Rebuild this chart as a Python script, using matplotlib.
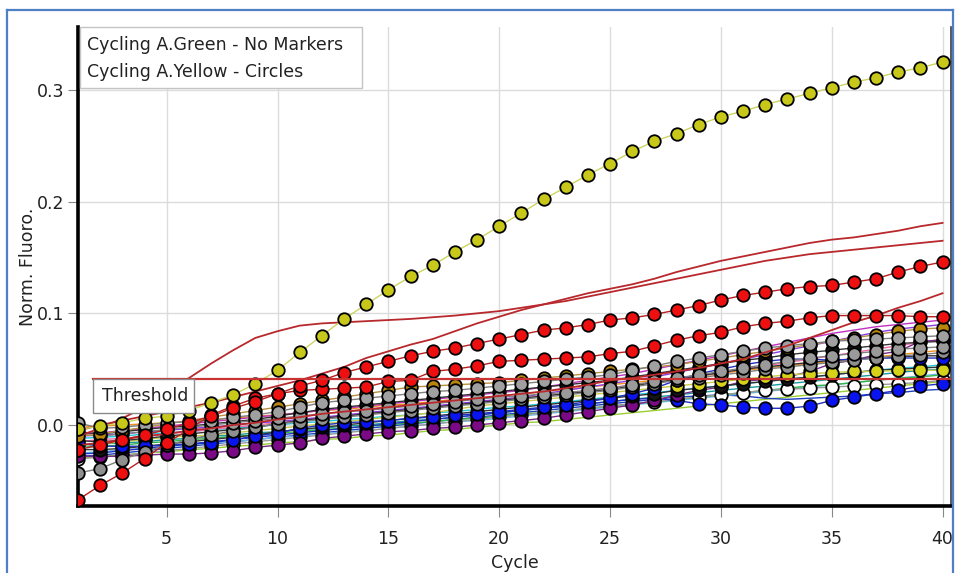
import matplotlib
matplotlib.use("Agg")
import matplotlib.pyplot as plt
from matplotlib.patches import Rectangle
from matplotlib.lines import Line2D

# ---------------- data ----------------
cycles = list(range(1, 41))
threshold = 0.0415
x_ticks = [5, 10, 15, 20, 25, 30, 35, 40]
y_ticks = [0.0, 0.1, 0.2, 0.3]
y_tick_labels = ["0.0", "0.1", "0.2", "0.3"]
legend_lines = ["Cycling A.Green - No Markers", "Cycling A.Yellow - Circles"]

# Cycling A.Yellow (circle markers)
yellow_high = [-0.004, -0.001, 0.002, 0.006, 0.008, 0.013, 0.020, 0.027, 0.037, 0.049,
               0.065, 0.080, 0.095, 0.108, 0.121, 0.133, 0.143, 0.155, 0.166, 0.178,
               0.190, 0.202, 0.213, 0.224, 0.234, 0.245, 0.254, 0.261, 0.269, 0.276,
               0.281, 0.287, 0.292, 0.297, 0.302, 0.307, 0.311, 0.316, 0.320, 0.325]
red_upper = [-0.022, -0.018, -0.013, -0.009, -0.004, 0.002, 0.008, 0.015, 0.021, 0.028,
             0.035, 0.040, 0.047, 0.052, 0.057, 0.062, 0.066, 0.069, 0.073, 0.077,
             0.081, 0.085, 0.087, 0.090, 0.094, 0.096, 0.099, 0.103, 0.107, 0.112,
             0.116, 0.119, 0.122, 0.124, 0.125, 0.128, 0.131, 0.137, 0.142, 0.146]
red_lower = [-0.067, -0.054, -0.043, -0.030, -0.016, -0.004, 0.009, 0.017, 0.024, 0.028,
             0.031, 0.032, 0.033, 0.034, 0.039, 0.040, 0.048, 0.050, 0.053, 0.057,
             0.058, 0.059, 0.060, 0.061, 0.064, 0.066, 0.071, 0.076, 0.080, 0.083,
             0.088, 0.091, 0.093, 0.096, 0.098, 0.098, 0.098, 0.098, 0.097, 0.097]
gray_top = [0.002, -0.003, -0.002, 0.000, 0.002, 0.003, 0.004, 0.007, 0.009, 0.012,
            0.016, 0.020, 0.022, 0.024, 0.026, 0.028, 0.030, 0.031, 0.033, 0.035,
            0.037, 0.039, 0.041, 0.043, 0.045, 0.049, 0.053, 0.057, 0.060, 0.063,
            0.066, 0.069, 0.071, 0.073, 0.075, 0.076, 0.077, 0.078, 0.079, 0.080]
gray_mid = [-0.008, -0.010, -0.008, -0.006, -0.004, -0.002, 0.000, 0.002, 0.004, 0.006,
            0.008, 0.010, 0.012, 0.013, 0.015, 0.017, 0.019, 0.021, 0.023, 0.025,
            0.026, 0.028, 0.029, 0.031, 0.033, 0.036, 0.039, 0.042, 0.045, 0.048,
            0.051, 0.054, 0.057, 0.060, 0.062, 0.064, 0.066, 0.068, 0.069, 0.070]
gray_low = [-0.043, -0.039, -0.031, -0.024, -0.018, -0.013, -0.009, -0.005, -0.002, 0.001,
            0.003, 0.005, 0.007, 0.009, 0.011, 0.013, 0.015, 0.017, 0.019, 0.021,
            0.023, 0.025, 0.027, 0.029, 0.031, 0.034, 0.037, 0.040, 0.042, 0.045,
            0.047, 0.050, 0.052, 0.054, 0.056, 0.058, 0.060, 0.062, 0.063, 0.065]
black_a = [-0.006, -0.008, -0.006, -0.004, -0.002, -0.001, 0.001, 0.003, 0.005, 0.008,
           0.011, 0.014, 0.016, 0.018, 0.020, 0.022, 0.024, 0.026, 0.028, 0.030,
           0.032, 0.034, 0.036, 0.038, 0.040, 0.043, 0.046, 0.049, 0.052, 0.055,
           0.058, 0.060, 0.063, 0.065, 0.067, 0.069, 0.071, 0.073, 0.074, 0.075]
black_b = [-0.022, -0.022, -0.021, -0.019, -0.017, -0.015, -0.013, -0.011, -0.009, -0.006,
           -0.004, -0.002, 0.000, 0.002, 0.004, 0.006, 0.008, 0.010, 0.012, 0.014,
           0.016, 0.018, 0.020, 0.022, 0.024, 0.026, 0.028, 0.031, 0.033, 0.035,
           0.037, 0.039, 0.041, 0.043, 0.045, 0.047, 0.049, 0.050, 0.051, 0.052]
black_c = [-0.014, -0.015, -0.014, -0.012, -0.010, -0.008, -0.006, -0.004, -0.002, 0.001,
           0.004, 0.006, 0.008, 0.010, 0.012, 0.014, 0.016, 0.018, 0.020, 0.022,
           0.024, 0.026, 0.028, 0.030, 0.032, 0.035, 0.038, 0.041, 0.044, 0.047,
           0.050, 0.052, 0.054, 0.056, 0.058, 0.059, 0.060, 0.061, 0.062, 0.062]
gold = [-0.010, -0.008, -0.005, -0.002, 0.001, 0.004, 0.007, 0.010, 0.013, 0.016,
        0.019, 0.022, 0.025, 0.028, 0.031, 0.034, 0.035, 0.036, 0.037, 0.038,
        0.040, 0.042, 0.044, 0.046, 0.048, 0.050, 0.052, 0.054, 0.057, 0.060,
        0.063, 0.066, 0.069, 0.072, 0.075, 0.078, 0.081, 0.084, 0.086, 0.087]
white = [-0.030, -0.029, -0.027, -0.025, -0.023, -0.021, -0.019, -0.017, -0.015, -0.013,
         -0.011, -0.009, -0.007, -0.005, -0.003, -0.001, 0.001, 0.003, 0.005, 0.007,
         0.009, 0.011, 0.013, 0.015, 0.017, 0.019, 0.021, 0.023, 0.025, 0.027,
         0.029, 0.031, 0.032, 0.033, 0.034, 0.035, 0.036, 0.037, 0.038, 0.040]
yellow_low = [-0.018, -0.017, -0.015, -0.013, -0.011, -0.010, -0.009, -0.007, -0.005, -0.003,
              -0.001, 0.001, 0.003, 0.005, 0.007, 0.009, 0.011, 0.014, 0.017, 0.019,
              0.021, 0.023, 0.025, 0.027, 0.029, 0.031, 0.033, 0.035, 0.037, 0.039,
              0.041, 0.043, 0.045, 0.046, 0.047, 0.048, 0.048, 0.049, 0.049, 0.049]
blue_high = [-0.016, -0.019, -0.019, -0.019, -0.018, -0.017, -0.016, -0.013, -0.010, -0.007,
             -0.003, 0.000, 0.002, 0.003, 0.004, 0.006, 0.007, 0.009, 0.010, 0.012,
             0.014, 0.016, 0.018, 0.021, 0.024, 0.028, 0.033, 0.040, 0.046, 0.050,
             0.054, 0.057, 0.059, 0.059, 0.058, 0.059, 0.060, 0.060, 0.060, 0.060]
blue_low = [-0.026, -0.025, -0.023, -0.021, -0.019, -0.017, -0.015, -0.013, -0.011, -0.009,
            -0.007, -0.005, -0.003, -0.001, 0.001, 0.003, 0.005, 0.007, 0.009, 0.011,
            0.013, 0.015, 0.017, 0.019, 0.021, 0.023, 0.024, 0.022, 0.019, 0.018,
            0.016, 0.015, 0.015, 0.017, 0.022, 0.025, 0.028, 0.031, 0.035, 0.037]
purple = [-0.028, -0.028, -0.028, -0.027, -0.026, -0.026, -0.025, -0.023, -0.020, -0.018,
          -0.016, -0.012, -0.010, -0.008, -0.006, -0.005, -0.003, -0.002, 0.000, 0.002,
          0.004, 0.006, 0.009, 0.012, 0.015, 0.018, 0.022, 0.027, 0.031, 0.034,
          0.039, 0.041, 0.043, 0.048, 0.055, 0.058, 0.063, 0.066, 0.075, 0.076]

# Cycling A.Green (no markers)
green_red_a = [-0.010, -0.003, 0.006, 0.016, 0.028, 0.042, 0.055, 0.067, 0.078, 0.084,
               0.089, 0.091, 0.092, 0.093, 0.094, 0.095, 0.0965, 0.098, 0.100, 0.102,
               0.105, 0.108, 0.111, 0.115, 0.119, 0.123, 0.127, 0.131, 0.135, 0.139,
               0.143, 0.147, 0.150, 0.153, 0.155, 0.157, 0.159, 0.161, 0.163, 0.165]
green_red_b = [-0.005, 0.000, 0.004, 0.008, 0.012, 0.016, 0.020, 0.025, 0.030, 0.035,
               0.040, 0.046, 0.052, 0.060, 0.066, 0.072, 0.077, 0.084, 0.091, 0.097,
               0.103, 0.108, 0.113, 0.118, 0.122, 0.126, 0.131, 0.137, 0.142, 0.147,
               0.151, 0.155, 0.159, 0.163, 0.166, 0.168, 0.171, 0.174, 0.178, 0.181]
green_red_c = [-0.018, -0.016, -0.013, -0.010, -0.008, -0.005, -0.003, 0.000, 0.002, 0.005,
               0.007, 0.010, 0.012, 0.014, 0.016, 0.018, 0.020, 0.022, 0.024, 0.026,
               0.028, 0.030, 0.033, 0.036, 0.040, 0.042, 0.045, 0.048, 0.051, 0.055,
               0.059, 0.065, 0.071, 0.078, 0.085, 0.092, 0.098, 0.105, 0.111, 0.118]
green_cyan = [-0.012, -0.011, -0.010, -0.008, -0.007, -0.006, -0.004, -0.003, -0.001, 0.000,
              0.002, 0.003, 0.005, 0.006, 0.008, 0.009, 0.011, 0.012, 0.014, 0.016,
              0.017, 0.019, 0.021, 0.023, 0.025, 0.027, 0.029, 0.031, 0.033, 0.035,
              0.037, 0.039, 0.041, 0.043, 0.045, 0.047, 0.049, 0.051, 0.052, 0.054]
green_green = [-0.020, -0.019, -0.018, -0.016, -0.015, -0.013, -0.012, -0.010, -0.009, -0.007,
               -0.006, -0.004, -0.003, -0.001, 0.000, 0.002, 0.003, 0.005, 0.006, 0.008,
               0.010, 0.011, 0.013, 0.015, 0.017, 0.019, 0.021, 0.023, 0.025, 0.027,
               0.029, 0.031, 0.033, 0.035, 0.036, 0.038, 0.040, 0.042, 0.043, 0.045]
green_orange = [-0.002, -0.001, 0.000, 0.001, 0.002, 0.003, 0.005, 0.006, 0.008, 0.009,
                0.011, 0.013, 0.014, 0.016, 0.018, 0.019, 0.021, 0.023, 0.024, 0.026,
                0.028, 0.030, 0.032, 0.034, 0.036, 0.038, 0.040, 0.042, 0.044, 0.046,
                0.049, 0.051, 0.053, 0.055, 0.057, 0.059, 0.061, 0.063, 0.065, 0.067]
green_pink = [-0.015, -0.013, -0.012, -0.010, -0.008, -0.006, -0.004, -0.002, 0.000, 0.002,
              0.004, 0.006, 0.008, 0.010, 0.012, 0.014, 0.016, 0.018, 0.020, 0.022,
              0.024, 0.026, 0.028, 0.031, 0.033, 0.036, 0.038, 0.041, 0.044, 0.047,
              0.050, 0.053, 0.056, 0.059, 0.062, 0.065, 0.068, 0.071, 0.074, 0.077]
green_magenta = [-0.008, -0.007, -0.005, -0.003, -0.001, 0.001, 0.003, 0.005, 0.007, 0.009,
                 0.011, 0.013, 0.015, 0.017, 0.019, 0.021, 0.023, 0.025, 0.027, 0.029,
                 0.031, 0.034, 0.037, 0.040, 0.043, 0.046, 0.050, 0.054, 0.058, 0.062,
                 0.066, 0.070, 0.074, 0.078, 0.082, 0.085, 0.088, 0.090, 0.092, 0.094]
green_violet = [-0.010, -0.009, -0.008, -0.006, -0.005, -0.003, -0.002, 0.000, 0.002, 0.003,
                0.005, 0.007, 0.009, 0.011, 0.013, 0.015, 0.017, 0.019, 0.021, 0.023,
                0.025, 0.028, 0.031, 0.034, 0.037, 0.040, 0.043, 0.047, 0.051, 0.055,
                0.059, 0.063, 0.067, 0.071, 0.075, 0.079, 0.083, 0.086, 0.088, 0.090]
green_sky = [-0.025, -0.024, -0.022, -0.021, -0.019, -0.018, -0.016, -0.015, -0.013, -0.011,
             -0.010, -0.008, -0.006, -0.005, -0.003, -0.001, 0.001, 0.003, 0.004, 0.006,
             0.008, 0.010, 0.012, 0.014, 0.016, 0.018, 0.020, 0.022, 0.024, 0.026,
             0.028, 0.030, 0.032, 0.034, 0.036, 0.038, 0.040, 0.042, 0.044, 0.046]
green_navy = [-0.028, -0.027, -0.025, -0.023, -0.021, -0.019, -0.017, -0.015, -0.013, -0.011,
              -0.009, -0.007, -0.005, -0.003, -0.001, 0.001, 0.003, 0.005, 0.007, 0.009,
              0.011, 0.013, 0.015, 0.017, 0.019, 0.021, 0.023, 0.025, 0.026, 0.027,
              0.026, 0.024, 0.023, 0.024, 0.025, 0.026, 0.028, 0.029, 0.031, 0.032]
green_teal = [-0.018, -0.017, -0.016, -0.015, -0.013, -0.012, -0.010, -0.009, -0.007, -0.006,
              -0.004, -0.003, -0.001, 0.000, 0.002, 0.004, 0.005, 0.007, 0.009, 0.011,
              0.013, 0.015, 0.017, 0.019, 0.021, 0.023, 0.025, 0.027, 0.029, 0.031,
              0.033, 0.035, 0.037, 0.039, 0.041, 0.043, 0.045, 0.047, 0.049, 0.050]
green_olive = [-0.030, -0.028, -0.027, -0.025, -0.024, -0.022, -0.021, -0.019, -0.018, -0.016,
               -0.015, -0.013, -0.012, -0.010, -0.009, -0.007, -0.005, -0.004, -0.002, 0.000,
               0.002, 0.003, 0.005, 0.007, 0.009, 0.011, 0.013, 0.015, 0.017, 0.019,
               0.021, 0.023, 0.025, 0.027, 0.029, 0.031, 0.033, 0.035, 0.037, 0.039]

# ---------------- styling ----------------
plt.rcParams["font.family"] = ["DejaVu Sans"]
TXT = "#222222"

fig = plt.figure(figsize=(9.55, 5.73), dpi=100)
ax = fig.add_axes([78 / 955, 1 - 506 / 573, (951 - 78) / 955, (506 - 27) / 573])
ax.set_xlim(1, 40.38)
ax.set_ylim(-0.0725, 0.3564)

ax.grid(True, color="#dcdcdc", lw=1.0, zorder=0)
ax.set_axisbelow(True)

for side in ("left", "bottom"):
    ax.spines[side].set_color("black")
    ax.spines[side].set_linewidth(2.6)
ax.spines["right"].set_color("#3a3a3a")
ax.spines["right"].set_linewidth(1.2)
ax.spines["top"].set_visible(False)

ax.set_xticks(x_ticks)
ax.set_xticklabels([str(v) for v in x_ticks])
ax.set_yticks(y_ticks)
ax.set_yticklabels(y_tick_labels)
ax.tick_params(axis="x", length=8, width=0.8, color="#888888", pad=9,
               labelsize=12.5, labelcolor=TXT)
ax.tick_params(axis="y", length=7, width=0.8, color="#888888", pad=3,
               labelsize=12.5, labelcolor=TXT)

ax.set_xlabel("Cycle", fontsize=12.5, color=TXT)
ax.set_ylabel("Norm. Fluoro.", fontsize=12.5, color=TXT)
ax.xaxis.set_label_coords(0.5, -0.10)
ax.yaxis.set_label_coords(-0.047, 0.5)

# green channel traces: plain lines
green_traces = [
    (green_olive, "#9acd32"), (green_navy, "#1f3fbf"), (green_sky, "#6fb7e6"),
    (green_green, "#33b54a"), (green_teal, "#1a9a9a"), (green_cyan, "#20c8d8"),
    (green_orange, "#f0901e"), (green_pink, "#f06aa8"), (green_violet, "#8a3be0"),
    (green_magenta, "#c030c0"),
]
for vals, col in green_traces:
    ax.plot(cycles, vals, color=col, lw=1.0, zorder=2)

for vals in (green_red_c, green_red_a, green_red_b):
    ax.plot(cycles, vals, color="#b8282c", lw=1.3, zorder=6)

# yellow channel traces: circles (cluster first, then the rising curves on top)
cluster_traces = [
    (white, "#ffffff", "#9a9a9a"),
    (blue_low, "#0a14f0", "#2030c0"),
    (purple, "#7a0a86", "#7a2a86"),
    (black_b, "#151515", "#333333"),
    (yellow_low, "#d6d21a", "#c8c84a"),
    (black_c, "#151515", "#333333"),
    (blue_high, "#0a14f0", "#2030c0"),
    (gray_low, "#8f8f8f", "#808080"),
    (black_a, "#151515", "#333333"),
    (gray_mid, "#9a9a9a", "#808080"),
    (gold, "#b8860b", "#b89040"),
    (gray_top, "#a0a0a0", "#808080"),
]
rising_traces = [
    (red_lower, "#ee1010", "#b82020"),
    (red_upper, "#ee1010", "#b82020"),
    (yellow_high, "#c8c81a", "#cdd460"),
]
marker_style = dict(lw=1.0, marker="o", markersize=9.0,
                    markeredgecolor="black", markeredgewidth=1.3)
for i, (vals, face, line) in enumerate(cluster_traces):
    ax.plot(cycles, vals, color=line, markerfacecolor=face, zorder=3 + i * 0.01,
            **marker_style)
for i, (vals, face, line) in enumerate(rising_traces):
    ax.plot(cycles, vals, color=line, markerfacecolor=face, zorder=7 + i * 0.01,
            **marker_style)

# threshold line and its tag
thr_start = (93 - 78) / 873
ax.axhline(threshold, xmin=thr_start, xmax=1, color="#c83232", lw=1.6, zorder=8)
ax.add_patch(Rectangle((thr_start, 0.194), (194 - 93) / 873, 0.265 - 0.194,
                       transform=ax.transAxes, facecolor="white",
                       edgecolor="#8a8a8a", lw=1.0, zorder=9))
ax.text(0.027, 0.2295, "Threshold", transform=ax.transAxes, fontsize=12.5,
        color=TXT, va="center", ha="left", zorder=10)

# legend box (text only)
ax.add_patch(Rectangle((0.002, 0.873), (362 - 80) / 873, 1 - 0.873,
                       transform=ax.transAxes, facecolor="white",
                       edgecolor="#c4c4c4", lw=1.0, zorder=9, clip_on=False))
ax.text(0.0105, 0.962, legend_lines[0], transform=ax.transAxes, fontsize=12.5,
        color=TXT, va="center", ha="left", zorder=10)
ax.text(0.0105, 0.906, legend_lines[1], transform=ax.transAxes, fontsize=12.5,
        color=TXT, va="center", ha="left", zorder=10)

# outer window frame
frame_col = "#4f7fc4"
fig.add_artist(Line2D([7 / 955, 7 / 955], [0, 1 - 10 / 573], color=frame_col, lw=1.6))
fig.add_artist(Line2D([7 / 955, 953 / 955], [1 - 10 / 573, 1 - 10 / 573], color=frame_col, lw=1.6))
fig.add_artist(Line2D([953 / 955, 953 / 955], [0, 1 - 10 / 573], color=frame_col, lw=1.6))

fig.savefig("out.png", dpi=100, facecolor="white")
